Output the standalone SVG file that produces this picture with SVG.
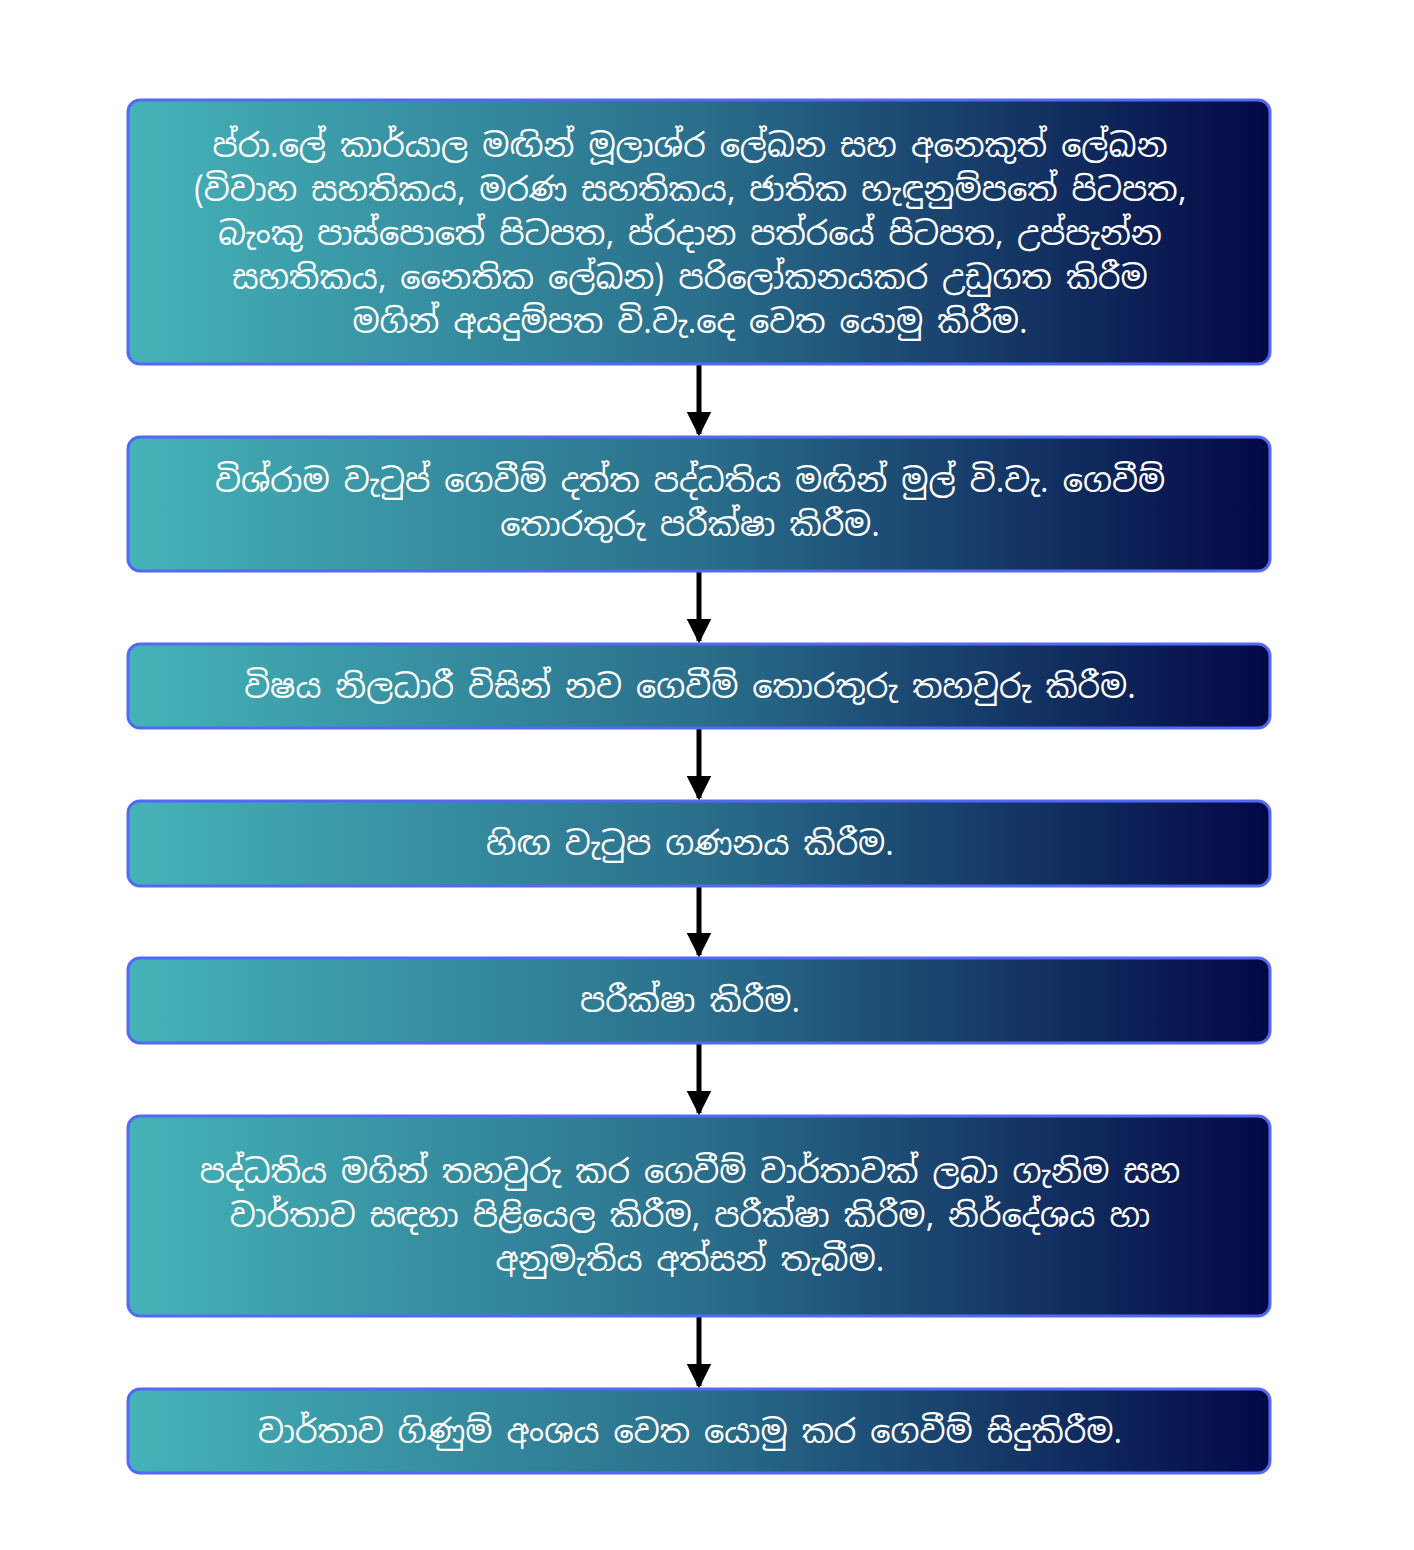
<svg xmlns="http://www.w3.org/2000/svg" width="1414" height="1550" viewBox="0 0 1414 1550">
<defs>
<linearGradient id="g" x1="0" y1="0" x2="1" y2="0">
<stop offset="0" stop-color="#45b3b8"/>
<stop offset="0.5" stop-color="#2a6f8c"/>
<stop offset="1" stop-color="#030846"/>
</linearGradient>
<marker id="ah" viewBox="0 0 10 10" refX="9" refY="5" markerWidth="5" markerHeight="5" orient="auto" markerUnits="strokeWidth">
<path d="M0,0 L10,5 L0,10 z" fill="#000"/>
</marker>
<style>
.box{fill:url(#g);stroke:#5468f8;stroke-width:3}
.t{font-family:"Noto Sans Sinhala","Noto Sans",sans-serif;font-size:32px;fill:#fff;text-anchor:middle;dominant-baseline:central;word-spacing:-2px}
.c{stroke:#000;stroke-width:5;fill:none;marker-end:url(#ah)}
</style>
</defs>
<rect width="1414" height="1550" fill="#fff"/>
<g id="connectors">
<line class="c" x1="699" y1="365" x2="699" y2="434"/>
<line class="c" x1="699" y1="572" x2="699" y2="641"/>
<line class="c" x1="699" y1="729" x2="699" y2="798"/>
<line class="c" x1="699" y1="887" x2="699" y2="955"/>
<line class="c" x1="699" y1="1044" x2="699" y2="1113"/>
<line class="c" x1="699" y1="1317" x2="699" y2="1386"/>
</g>
<g id="n1">
<rect class="box" x="128" y="100" width="1142" height="264" rx="12"/>
<text class="t" x="690" y="145">ප්රා.ලේ කාර්යාල මඟින් මූලාශ්ර ලේඛන සහ අනෙකුත් ලේඛන</text>
<text class="t" x="690" y="189">(විවාහ සහතිකය, මරණ සහතිකය, ජාතික හැඳුනුම්පතේ පිටපත,</text>
<text class="t" x="690" y="233">බැංකු පාස්පොතේ පිටපත, ප්රදාන පත්රයේ පිටපත, උප්පැන්න</text>
<text class="t" x="690" y="277">සහතිකය, නෛතික ලේඛන) පරිලෝකනයකර උඩුගත කිරීම</text>
<text class="t" x="690" y="321">මගින් අයදුම්පත වි.වැ.දෙ වෙත යොමු කිරීම.</text>
</g>
<g id="n2">
<rect class="box" x="128" y="437" width="1142" height="134" rx="12"/>
<text class="t" x="690" y="480">විශ්රාම වැටුප් ගෙවීම් දත්ත පද්ධතිය මඟින් මුල් වි.වැ. ගෙවීම්</text>
<text class="t" x="690" y="524">තොරතුරු පරීක්ෂා කිරීම.</text>
</g>
<g id="n3">
<rect class="box" x="128" y="644" width="1142" height="84" rx="12"/>
<text class="t" x="690" y="686">විෂය නිලධාරී විසින් නව ගෙවීම් තොරතුරු තහවුරු කිරීම.</text>
</g>
<g id="n4">
<rect class="box" x="128" y="801" width="1142" height="85" rx="12"/>
<text class="t" x="690" y="843">හිඟ වැටුප ගණනය කිරීම.</text>
</g>
<g id="n5">
<rect class="box" x="128" y="958" width="1142" height="85" rx="12"/>
<text class="t" x="690" y="1000">පරීක්ෂා කිරීම.</text>
</g>
<g id="n6">
<rect class="box" x="128" y="1116" width="1142" height="200" rx="12"/>
<text class="t" x="690" y="1171">පද්ධතිය මගින් තහවුරු කර ගෙවීම් වාර්තාවක් ලබා ගැනිම සහ</text>
<text class="t" x="690" y="1215">වාර්තාව සඳහා පිළියෙල කිරීම, පරීක්ෂා කිරීම, නිර්දේශය හා</text>
<text class="t" x="690" y="1259">අනුමැතිය අත්සන් තැබීම.</text>
</g>
<g id="n7">
<rect class="box" x="128" y="1389" width="1142" height="84" rx="12"/>
<text class="t" x="690" y="1431">වාර්තාව ගිණුම් අංශය වෙත යොමු කර ගෙවීම් සිදුකිරීම.</text>
</g>
</svg>
